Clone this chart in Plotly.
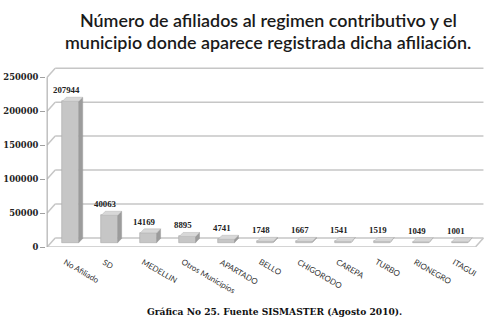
import plotly.graph_objects as go

categories = ["No Afiliado", "SD", "MEDELLIN", "Otros Municipios", "APARTADO", "BELLO",
              "CHIGORODO", "CAREPA", "TURBO", "RIONEGRO", "ITAGUI"]
values = [207944, 40063, 14169, 8895, 4741, 1748, 1667, 1541, 1519, 1049, 1001]
y_ticks = [0, 50000, 100000, 150000, 200000, 250000]
title_lines = ["Número de afiliados al regimen contributivo y el",
               "municipio donde aparece registrada dicha afiliación."]
caption = "Gráfica No 25. Fuente SISMASTER (Agosto 2010)."

# geometry (axis units)
X0, X1 = -0.53, 10.72
Y_TOP = 265000
DX = 0.206      # wall depth in x units
DY = 13235      # wall depth in y units
BW = 0.42       # bar front width
SX = 0.10       # bar depth x
SY = 5900       # bar depth y
BASE = DY / 2
BX = DX / 2

GRID = "#c6c6c6"
fig = go.Figure()

shapes = []
def line(x0, y0, x1, y1, color=GRID, w=1.5):
    shapes.append(dict(type="line", xref="x", yref="y", x0=x0, y0=y0, x1=x1, y1=y1,
                       line=dict(color=color, width=w), layer="below"))

xl, xr = -0.5, 10.5
for v in y_ticks:
    line(xl + DX, v + DY, xr + DX, v + DY)
    line(xl, v, xl + DX, v + DY)
line(xl, 0, xr, 0)
line(xr, 0, xr + DX, DY)
line(xl, 0, xl, y_ticks[-1], color="#b0b0b0", w=1.2)

# bars: front face
xs = [i + BX for i in range(len(values))]
fig.add_trace(go.Bar(x=xs, y=values, base=[BASE] * len(values), width=BW,
                     marker=dict(color="#c6c6c6", line=dict(color="#a8a8a8", width=0.6)),
                     hoverinfo="skip", showlegend=False))
# side and top faces
for i, v in enumerate(values):
    x_l = xs[i] - BW / 2
    x_r = xs[i] + BW / 2
    top = BASE + v
    fig.add_trace(go.Scatter(x=[x_r, x_r + SX, x_r + SX, x_r, x_r],
                             y=[BASE, BASE + SY, top + SY, top, BASE],
                             fill="toself", fillcolor="#9c9c9c", mode="lines",
                             line=dict(color="#9a9a9a", width=0.5),
                             hoverinfo="skip", showlegend=False))
    fig.add_trace(go.Scatter(x=[x_l, x_r, x_r + SX, x_l + SX, x_l],
                             y=[top, top, top + SY, top + SY, top],
                             fill="toself", fillcolor="#d8d8d8", mode="lines",
                             line=dict(color="#b5b5b5", width=0.5),
                             hoverinfo="skip", showlegend=False))

annotations = []
for i, v in enumerate(values):
    annotations.append(dict(x=i, y=BASE + v + SY, xref="x", yref="y", text=f"{v}",
                            showarrow=False, yanchor="bottom", xanchor="center", yshift=0,
                            font=dict(family="Liberation Serif", size=8.8, color="#222222", weight="bold")))
for i, c in enumerate(categories):
    annotations.append(dict(x=i, y=0, xref="x", yref="y", text=c, showarrow=False,
                            textangle=30, xanchor="left", yanchor="top", xshift=-7, yshift=-7,
                            font=dict(family="Lato", size=8, color="#333333")))

PL, PB, PH, PW = 46, 77, 180, 438
def px_x(x):
    return (x - PL) / PW
def px_y(y):
    return (324 - PB - y) / PH

for k, (t, yc) in enumerate(zip(title_lines, [20, 42])):
    annotations.append(dict(x=px_x(268), y=px_y(yc), xref="paper", yref="paper", text=t,
                            showarrow=False, xanchor="center", yanchor="middle",
                            font=dict(family="Lato", size=17.9, color="#1a1a1a", weight=600)))
annotations.append(dict(x=px_x(274), y=px_y(311), xref="paper", yref="paper", text=caption,
                        showarrow=False, xanchor="center", yanchor="middle",
                        font=dict(family="DejaVu Serif", size=9.1, color="#111111", weight="bold")))

fig.update_layout(
    width=488, height=324,
    margin=dict(l=PL, r=488 - PL - PW, t=324 - PB - PH, b=PB),
    paper_bgcolor="white", plot_bgcolor="white",
    shapes=shapes, annotations=annotations,
    bargap=0,
    xaxis=dict(range=[X0, X1], showgrid=False, zeroline=False, showticklabels=False,
               showline=False, ticks=""),
    yaxis=dict(range=[0, Y_TOP], tickvals=y_ticks, ticktext=[str(v) for v in y_ticks],
               showgrid=False, zeroline=False, showline=False,
               ticks="outside", ticklen=5, tickcolor="#a0a0a0", tickwidth=1,
               tickfont=dict(family="DejaVu Serif", size=8.4, color="#222222", weight="bold")),
)

fig.write_html("out.html", config={"displayModeBar": False},
               post_script="document.body.style.margin='0';document.body.style.overflow='hidden';")
